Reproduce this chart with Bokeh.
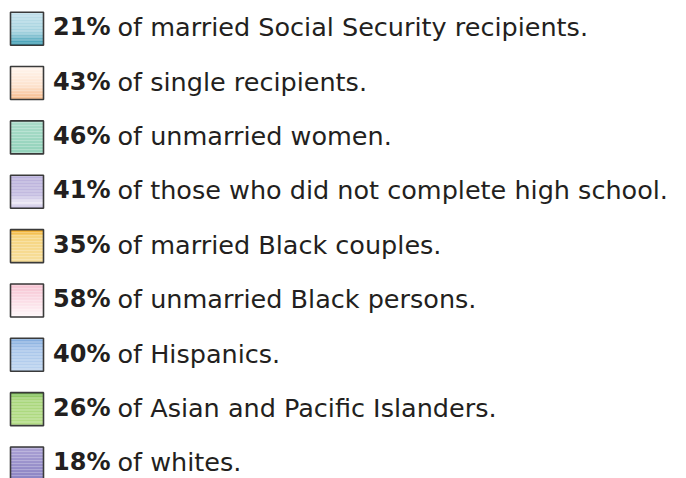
import numpy as np
from bokeh.plotting import figure
from bokeh.models import Range1d, ColumnDataSource
from bokeh.core.properties import value
from bokeh.embed import file_html
from bokeh.resources import INLINE

percents = ["21%", "43%", "46%", "41%", "35%", "58%", "40%", "26%", "18%"]
labels = [
    "of married Social Security recipients.",
    "of single recipients.",
    "of unmarried women.",
    "of those who did not complete high school.",
    "of married Black couples.",
    "of unmarried Black persons.",
    "of Hispanics.",
    "of Asian and Pacific Islanders.",
    "of whites.",
]

# gradient stops per swatch (position from top, colour)
swatch_stops = [
    [(0.0, "#c2e0ea"), (0.6, "#a2d1de"), (1.0, "#2e95ad")],
    [(0.0, "#fff6ef"), (0.6, "#fde2cd"), (1.0, "#f6ba8a")],
    [(0.0, "#aadcc9"), (1.0, "#92d2ba")],
    [(0.0, "#b9b0db"), (0.6, "#c3bbe0"), (0.85, "#ece9f6"), (1.0, "#b7afd9")],
    [(0.0, "#f2a61a"), (0.2, "#f6d47f"), (1.0, "#f7df9c")],
    [(0.0, "#f6c2d1"), (0.8, "#fdedf2"), (1.0, "#fff8fa")],
    [(0.0, "#7ea9dc"), (0.35, "#a8c5ea"), (1.0, "#bcd3ef")],
    [(0.0, "#6db446"), (0.2, "#a8d67a"), (1.0, "#b3dc85")],
    [(0.0, "#aba1d4"), (1.0, "#8a83c3")],
]

W, H = 686, 478
ROW0, STEP, SQ = 28.2, 54.35, 33
SQ_X = 10
PCT_X = 52.5
TXT_X = 117
TXT_OFF = -1.3

def hex2rgb(h):
    h = h.lstrip("#")
    return np.array([int(h[i:i + 2], 16) for i in (0, 2, 4)], dtype=float)

def interp(stops, t):
    for (p0, c0), (p1, c1) in zip(stops[:-1], stops[1:]):
        if t <= p1:
            f = 0 if p1 == p0 else (t - p0) / (p1 - p0)
            c = hex2rgb(c0) * (1 - f) + hex2rgb(c1) * f
            return "#%02x%02x%02x" % tuple(int(round(v)) for v in c)
    return stops[-1][1]

p = figure(width=W, height=H, output_backend="svg", toolbar_location=None,
           x_range=Range1d(0, W), y_range=Range1d(H, 0),
           min_border=0, outline_line_color=None)
p.axis.visible = False
p.grid.visible = False
p.background_fill_color = "white"
p.border_fill_color = "white"

n = len(percents)
ys = [ROW0 + STEP * i for i in range(n)]

# gradient strips
NS = 22
L, R, T, B, C = [], [], [], [], []
for i, y in enumerate(ys):
    top = y - SQ / 2
    for k in range(NS):
        t = (k + 0.5) / NS
        L.append(SQ_X)
        R.append(SQ_X + SQ)
        T.append(top + SQ * k / NS)
        B.append(top + SQ * (k + 1) / NS)
        C.append(interp(swatch_stops[i], t))
p.quad(left=L, right=R, top=T, bottom=B, fill_color=C, line_color=None)

src = ColumnDataSource(dict(y=ys, yt=[y + TXT_OFF for y in ys], pct=percents, lab=labels,
                            xs=[SQ_X + SQ / 2] * n, xp=[PCT_X] * n, xt=[TXT_X] * n))
p.rect(x="xs", y="y", width=SQ, height=SQ, source=src, fill_color=None,
       line_color="#3a3a3a", line_width=1.6)

p.text(x="xp", y="yt", text="pct", source=src, text_font=value("DejaVu Sans"),
       text_font_style="bold", text_font_size="24px", text_color="#231f20",
       text_baseline="middle", text_align="left")
p.text(x="xt", y="yt", text="lab", source=src, text_font=value("DejaVu Sans"),
       text_font_size="25.5px", text_color="#231f20",
       text_baseline="middle", text_align="left")

open("out.html", "w").write(file_html(p, INLINE))
